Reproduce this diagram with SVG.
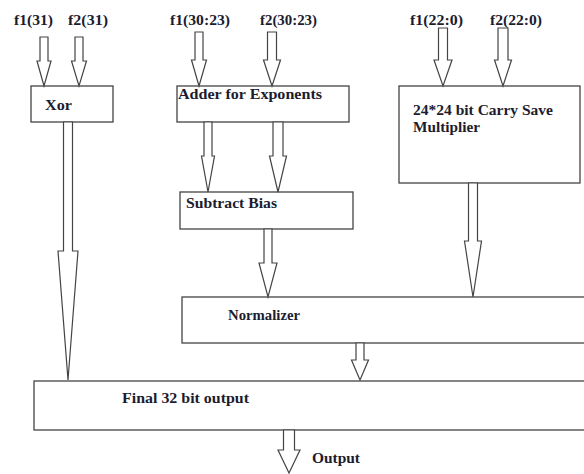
<svg xmlns="http://www.w3.org/2000/svg" width="584" height="474" viewBox="0 0 584 474">
<style>
.box{fill:#fff;stroke:#444;stroke-width:1.3}
.arr{fill:#fff;stroke:#444;stroke-width:1.2;stroke-linejoin:miter}
.t{font-family:"Liberation Serif","Times New Roman",serif;font-weight:bold;font-size:15px;fill:#1c1c2e}
</style>
<rect width="584" height="474" fill="#fff"/>
<g id="labels">
<text class="t" x="14" y="25" textLength="39" lengthAdjust="spacingAndGlyphs">f1(31)</text>
<text class="t" x="68" y="25" textLength="40" lengthAdjust="spacingAndGlyphs">f2(31)</text>
<text class="t" x="170" y="25" textLength="60" lengthAdjust="spacingAndGlyphs">f1(30:23)</text>
<text class="t" x="260" y="25" textLength="57" lengthAdjust="spacingAndGlyphs">f2(30:23)</text>
<text class="t" x="410" y="25" textLength="53" lengthAdjust="spacingAndGlyphs">f1(22:0)</text>
<text class="t" x="490" y="25" textLength="52" lengthAdjust="spacingAndGlyphs">f2(22:0)</text>
<text class="t" x="312" y="463" textLength="48" lengthAdjust="spacingAndGlyphs">Output</text>
</g>
<g id="xor">
<rect class="box" x="31" y="86" width="82" height="36"/>
<text class="t" x="45" y="110" textLength="27" lengthAdjust="spacingAndGlyphs">Xor</text>
</g>
<g id="adder">
<rect class="box" x="177" y="86" width="172" height="36"/>
<text class="t" x="178" y="99" textLength="144" lengthAdjust="spacingAndGlyphs">Adder for Exponents</text>
</g>
<g id="multiplier">
<rect class="box" x="399" y="86" width="181" height="97"/>
<text class="t" x="413" y="115" textLength="140" lengthAdjust="spacingAndGlyphs">24*24 bit Carry Save</text>
<text class="t" x="413" y="132" textLength="67" lengthAdjust="spacingAndGlyphs">Multiplier</text>
</g>
<g id="subtract">
<rect class="box" x="180" y="192" width="173" height="37"/>
<text class="t" x="186" y="208" textLength="91" lengthAdjust="spacingAndGlyphs">Subtract Bias</text>
</g>
<g id="normalizer">
<rect class="box" x="182" y="297" width="410" height="46"/>
<text class="t" x="228" y="320" textLength="72" lengthAdjust="spacingAndGlyphs">Normalizer</text>
</g>
<g id="final">
<rect class="box" x="34" y="381" width="560" height="49"/>
<text class="t" x="122" y="403" textLength="127" lengthAdjust="spacingAndGlyphs">Final 32 bit output</text>
</g>
<g id="connectors">
<polygon class="arr" points="40,37 48,37 48,61 51,61 44,86 37,61 40,61"/>
<polygon class="arr" points="75,37 83,37 83,61 86.5,61 79,86 71.5,61 75,61"/>
<polygon class="arr" points="195,32 203,32 203,60 206.5,60 199,86 191.5,60 195,60"/>
<polygon class="arr" points="267.5,32 276.5,32 276.5,60 280.5,60 272,86 263.5,60 267.5,60"/>
<polygon class="arr" points="438.5,28 447.5,28 447.5,60 452,60 443,86 434,60 438.5,60"/>
<polygon class="arr" points="498,28 508,28 508,60 511.5,60 503,86 494.5,60 498,60"/>
<polygon class="arr" points="63.5,122 72.5,122 72.5,251 78,251 68,380 58,251 63.5,251"/>
<polygon class="arr" points="204,122 212,122 212,156 214.5,156 208,192 201.5,156 204,156"/>
<polygon class="arr" points="273,122 283,122 283,156 286.5,156 278,192 269.5,156 273,156"/>
<polygon class="arr" points="264,229 272,229 272,263 277,263 268,297 259,263 264,263"/>
<polygon class="arr" points="468.5,183 477.5,183 477.5,241 481.5,241 473,297 464.5,241 468.5,241"/>
<polygon class="arr" points="356,343 364,343 364,360 368.5,360 360,380 351.5,360 356,360"/>
<polygon class="arr" points="283.5,430 294.5,430 294.5,450 300,450 289,473 278,450 283.5,450"/>
</g>
</svg>
